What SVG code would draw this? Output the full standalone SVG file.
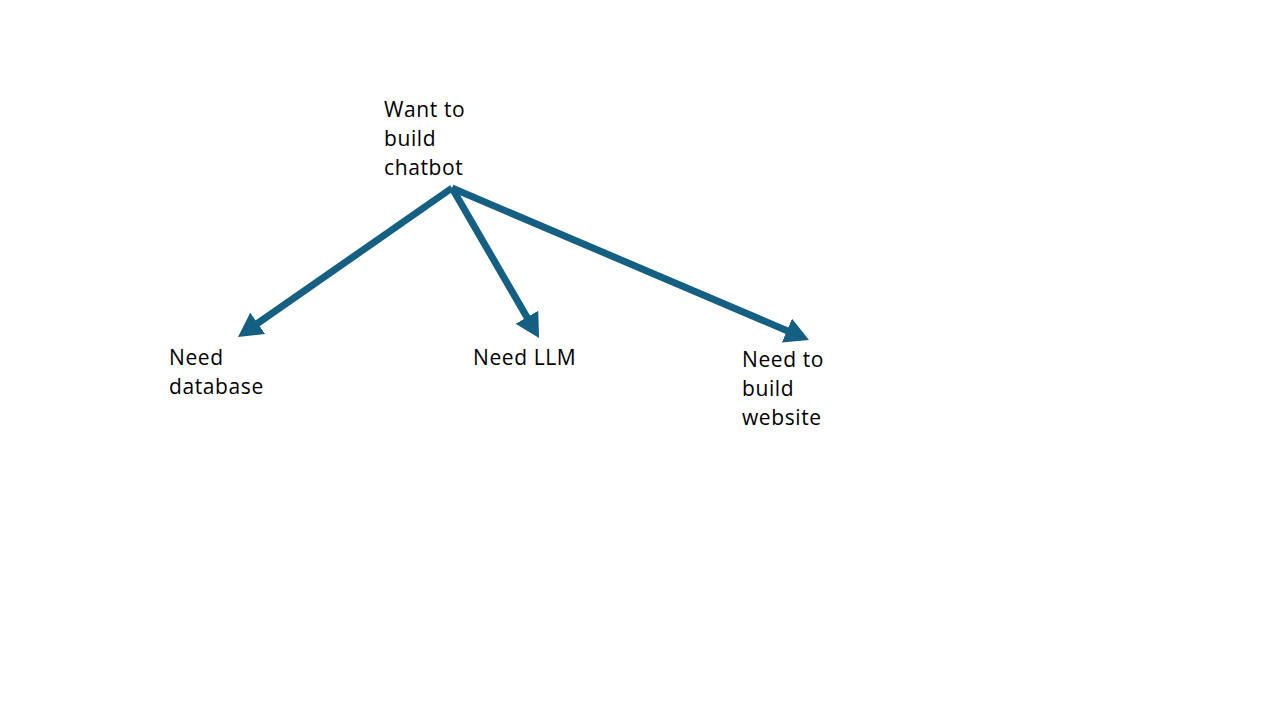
<svg xmlns="http://www.w3.org/2000/svg" width="1280" height="720" viewBox="0 0 1280 720">
<style>
.t{font-family:"Open Sans","Noto Sans",sans-serif;font-size:21px;letter-spacing:0.6px;fill:#000}
.c{stroke:#156082;stroke-width:7;fill:none;marker-end:url(#ah)}
</style>
<defs>
<marker id="ah" markerUnits="userSpaceOnUse" markerWidth="26" markerHeight="26" viewBox="0 0 26 26" refX="4" refY="13" orient="auto">
<path d="M0,0 L24,13 L0,26 Z" fill="#156082"/>
</marker>
</defs>
<rect width="1280" height="720" fill="#fff"/>
<g id="connectors">
<line class="c" x1="452" y1="188" x2="254.4" y2="325.6"/>
<line class="c" x1="452" y1="188" x2="529" y2="320.7"/>
<line class="c" x1="452" y1="188" x2="790.6" y2="332.2"/>
</g>
<g id="chatbot"><text class="t" x="384" y="117">Want to</text><text class="t" x="384" y="146">build</text><text class="t" x="384" y="175">chatbot</text></g>
<g id="database"><text class="t" x="169" y="365">Need</text><text class="t" x="169" y="394">database</text></g>
<g id="llm"><text class="t" x="473" y="365">Need LLM</text></g>
<g id="website"><text class="t" x="742" y="367">Need to</text><text class="t" x="742" y="396">build</text><text class="t" x="742" y="425">website</text></g>
</svg>
